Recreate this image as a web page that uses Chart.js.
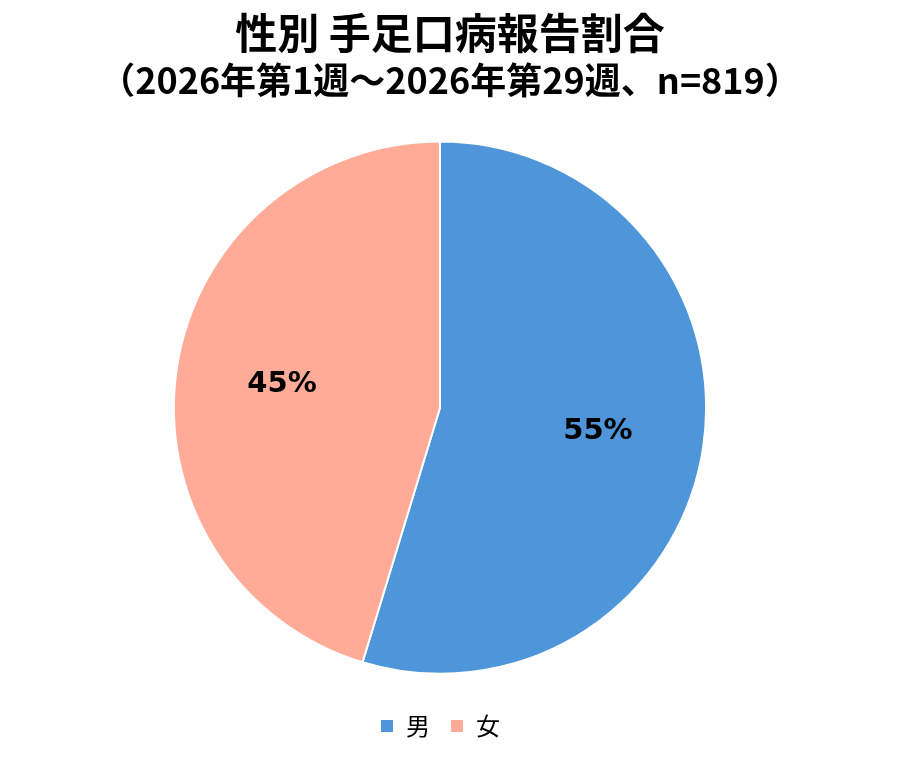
<!DOCTYPE html>
<html>
<head>
<meta charset="utf-8">
<script src="https://cdn.jsdelivr.net/npm/chart.js@4"></script>
<style>
  html, body { margin: 0; padding: 0; background: #fff; }
  #wrap { width: 900px; height: 765px; }
</style>
</head>
<body>
<div id="wrap"><canvas id="sexChart" width="900" height="765"></canvas></div>
<script>
// data (n=819)
const titleText = '性別 手足口病報告割合';
const subtitleText = '（2026年第1週～2026年第29週、n=819）';
const categories = ['男', '女'];
const counts = [448, 371];
const colors = ['#4E95D9', '#FFAB97'];

const FONT = "'Noto Sans CJK JP', 'Noto Sans', sans-serif";

// percentage labels drawn inside each slice
const pctLabels = {
  id: 'pctLabels',
  afterDatasetsDraw(chart) {
    const ctx = chart.ctx;
    const meta = chart.getDatasetMeta(0);
    const total = counts.reduce((a, b) => a + b, 0);
    ctx.save();
    ctx.font = "bold 29px 'DejaVu Sans', sans-serif";
    ctx.fillStyle = '#000';
    ctx.textAlign = 'center';
    ctx.textBaseline = 'middle';
    meta.data.forEach((arc, i) => {
      const mid = (arc.startAngle + arc.endAngle) / 2;
      const r = arc.outerRadius * 0.6;
      const x = arc.x + Math.cos(mid) * r;
      const y = arc.y + Math.sin(mid) * r;
      ctx.fillText(Math.round(counts[i] / total * 100) + '%', x, y);
    });
    ctx.restore();
  }
};

// the pie sits a bit left of the page centre, the titles don't
const centreTitles = {
  id: 'centreTitles',
  afterLayout(chart) {
    chart.boxes.forEach(b => {
      if (b.position === 'top') {
        b.left += 10;
        b.right += 10;
      }
    });
  }
};

const ctx = document.getElementById('sexChart').getContext('2d');
new Chart(ctx, {
  type: 'pie',
  data: {
    labels: categories,
    datasets: [{
      data: counts,
      backgroundColor: colors,
      borderColor: '#fff',
      borderWidth: 2
    }]
  },
  options: {
    responsive: false,
    animation: false,
    layout: { padding: { top: 0, bottom: 17, left: 0, right: 20 } },
    plugins: {
      title: {
        display: true,
        text: titleText,
        color: '#000',
        font: { family: FONT, size: 42, weight: 'bold', lineHeight: 1.2 },
        padding: { top: 8, bottom: 0 }
      },
      subtitle: {
        display: true,
        text: subtitleText,
        color: '#000',
        font: { family: FONT, size: 36, weight: 'bold', lineHeight: 1.2 },
        padding: { top: 0, bottom: 39 }
      },
      legend: {
        position: 'bottom',
        title: { display: true, text: '', font: { size: 1 }, padding: { top: 18, bottom: 0 } },
        labels: {
          color: '#000',
          boxWidth: 14,
          boxHeight: 14,
          padding: 20,
          font: { family: FONT, size: 24 }
        }
      },
      tooltip: { enabled: false }
    }
  },
  plugins: [pctLabels, centreTitles]
});
</script>
</body>
</html>
